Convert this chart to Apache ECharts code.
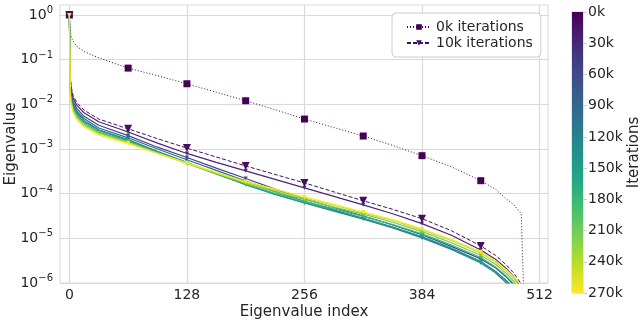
<!DOCTYPE html>
<html>
<head>
<meta charset="utf-8">
<script src="https://cdn.jsdelivr.net/npm/echarts@6/dist/echarts.min.js"></script>
<style>
html,body{margin:0;padding:0;background:#fff}
#main{width:644px;height:323px}
</style>
</head>
<body>
<div id="main"></div>
<script>
// eigenvalue index where values were read
var eigIndex = [0,1,2,4,8,16,32,64,96,128,160,192,224,256,288,320,352,384,416,448,464,476,484,492,496,511];
// log10(eigenvalue), one array per checkpoint
var log0k   = [0,-0.34,-0.50,-0.58,-0.70,-0.82,-0.96,-1.19,-1.36,-1.54,-1.73,-1.92,-2.12,-2.33,-2.52,-2.71,-2.92,-3.15,-3.40,-3.71,-3.90,-4.12,-4.25,-4.45,-7,-9];
var log10k  = [0,-1.38,-1.60,-1.80,-1.96,-2.13,-2.33,-2.55,-2.77,-2.98,-3.18,-3.38,-3.57,-3.76,-3.96,-4.16,-4.35,-4.56,-4.83,-5.17,-5.38,-5.60,-5.78,-6.02,-6.30,-8];
var log30k  = [0,-1.45,-1.66,-1.86,-2.02,-2.19,-2.39,-2.62,-2.87,-3.10,-3.30,-3.49,-3.68,-3.87,-4.06,-4.25,-4.45,-4.67,-4.93,-5.26,-5.47,-5.68,-5.86,-6.10,-6.40,-8];
var log60k  = [0,-1.52,-1.73,-1.93,-2.09,-2.27,-2.47,-2.70,-2.96,-3.19,-3.43,-3.66,-3.90,-4.12,-4.31,-4.50,-4.70,-4.92,-5.18,-5.46,-5.66,-5.87,-6.05,-6.30,-6.60,-8];
var log90k  = [0,-1.58,-1.79,-1.99,-2.15,-2.32,-2.53,-2.75,-3.00,-3.24,-3.48,-3.72,-3.95,-4.17,-4.36,-4.55,-4.75,-4.97,-5.23,-5.52,-5.74,-5.95,-6.12,-6.40,-6.70,-8];
var log120k = [0,-1.63,-1.84,-2.03,-2.19,-2.36,-2.57,-2.79,-3.05,-3.30,-3.55,-3.80,-4.02,-4.21,-4.39,-4.57,-4.77,-4.99,-5.25,-5.55,-5.77,-6.00,-6.18,-6.45,-6.80,-8];
var log150k = [0,-1.67,-1.87,-2.06,-2.22,-2.39,-2.59,-2.81,-3.07,-3.31,-3.56,-3.80,-4.01,-4.20,-4.38,-4.55,-4.75,-4.96,-5.22,-5.52,-5.74,-5.96,-6.14,-6.40,-6.70,-8];
var log180k = [0,-1.71,-1.91,-2.09,-2.25,-2.42,-2.62,-2.83,-3.08,-3.32,-3.56,-3.79,-3.99,-4.17,-4.34,-4.51,-4.69,-4.90,-5.15,-5.43,-5.64,-5.85,-6.02,-6.30,-6.60,-8];
var log210k = [0,-1.75,-1.94,-2.12,-2.28,-2.45,-2.64,-2.85,-3.09,-3.32,-3.55,-3.77,-3.96,-4.13,-4.30,-4.46,-4.64,-4.85,-5.10,-5.38,-5.58,-5.79,-5.96,-6.22,-6.50,-8];
var log240k = [0,-1.78,-1.97,-2.15,-2.31,-2.48,-2.66,-2.86,-3.10,-3.32,-3.54,-3.75,-3.93,-4.10,-4.26,-4.43,-4.60,-4.81,-5.05,-5.33,-5.53,-5.74,-5.90,-6.12,-6.40,-8];
var log270k = [0,-1.82,-2.00,-2.18,-2.34,-2.51,-2.69,-2.88,-3.10,-3.31,-3.52,-3.73,-3.90,-4.07,-4.24,-4.41,-4.58,-4.79,-5.02,-5.30,-5.50,-5.71,-5.86,-6.05,-6.35,-8];

var iterations = [0,10,30,60,90,120,150,180,210,240,270];
var curves = [log0k,log10k,log30k,log60k,log90k,log120k,log150k,log180k,log210k,log240k,log270k];
var xTicks = [0,128,256,384,512];
var yTicks = [1e-6,1e-5,1e-4,1e-3,1e-2,1e-1,1];
var cbarTicks = [0,30,60,90,120,150,180,210,240,270];

var textColor = '#262626';
var gridColor = '#d9d9d9';

// viridis colour map
var viridisStops = ['#440154','#482475','#414487','#355f8d','#2a788e','#21918c','#22a884','#44bf70','#7ad151','#bddf26','#fde725'];
function hexToRgb(h){
    return [parseInt(h.substr(1,2),16),parseInt(h.substr(3,2),16),parseInt(h.substr(5,2),16)];
}
function viridis(t){
    var p = t * (viridisStops.length - 1);
    var i = Math.min(Math.floor(p), viridisStops.length - 2);
    var f = p - i;
    var a = hexToRgb(viridisStops[i]), b = hexToRgb(viridisStops[i+1]);
    var c = [];
    for(var k = 0; k < 3; k ++){
        c.push(Math.round(a[k] + (b[k] - a[k]) * f));
    }
    return 'rgb(' + c.join(',') + ')';
}

function supLabel(v){
    var e = Math.round(Math.log10(v));
    return '10{sup|' + (e < 0 ? '\u2212' + (-e) : e) + '}';
}

var series = [];
for(var s = 0; s < curves.length; s ++){
    var it = iterations[s];
    var col = viridis(it / 270);
    var sym, symSize, symRot = 0, lineType = 'solid', lw = 1.2;
    if(it === 0){
        sym = 'rect'; symSize = 7; lineType = [1,2]; lw = 1;
    }else if(it === 10){
        sym = 'triangle'; symSize = 8; symRot = 180; lineType = [4,2]; lw = 1;
    }else{
        sym = 'triangle'; symSize = 4; symRot = 180;
    }
    var data = [];
    for(var i = 0; i < eigIndex.length; i ++){
        var item = {value: [eigIndex[i], Math.pow(10, curves[s][i])]};
        if(eigIndex[i] % 64 !== 0 || eigIndex[i] > 448){
            item.symbol = 'none';
        }
        data.push(item);
    }
    series.push({
        name: it + 'k iterations',
        type: 'line',
        xAxisIndex: 0,
        yAxisIndex: 0,
        data: data,
        symbol: sym,
        symbolSize: symSize,
        symbolRotate: symRot,
        showSymbol: true,
        clip: true,
        animation: false,
        color: col,
        itemStyle: {color: col},
        lineStyle: {color: col, width: lw, type: lineType},
        z: 2 + s
    });
}

// colour bar drawn as a single gradient bar
var gradStops = [];
for(var g = 0; g < viridisStops.length; g ++){
    gradStops.push({offset: g / (viridisStops.length - 1), color: viridisStops[g]});
}
series.push({
    type: 'bar',
    xAxisIndex: 1,
    yAxisIndex: 1,
    data: [270],
    barWidth: '100%',
    silent: true,
    animation: false,
    itemStyle: {color: new echarts.graphic.LinearGradient(0, 0, 0, 1, gradStops)}
});

var myChart = echarts.init(document.getElementById('main'), null, {renderer: 'canvas'});
var option = {
    backgroundColor: '#fff',
    textStyle: {fontFamily: 'DejaVu Sans', color: textColor},
    grid: [
        {left: 60, right: 96, top: 5, bottom: 40, show: true, borderColor: gridColor, borderWidth: 1, outerBoundsMode: 'none', containLabel: false},
        {left: 572, width: 11, top: 12, height: 281, show: true, borderColor: '#cccccc', borderWidth: 1, outerBoundsMode: 'none', containLabel: false}
    ],
    legend: {
        data: ['0k iterations', '10k iterations'],
        orient: 'vertical',
        left: 392,
        top: 13,
        padding: [6, 8, 6, 14],
        itemGap: 0,
        itemWidth: 24,
        itemHeight: 7,
        backgroundColor: '#ffffff',
        borderColor: '#cccccc',
        borderWidth: 1,
        borderRadius: 4,
        textStyle: {fontFamily: 'DejaVu Sans', fontSize: 14, color: textColor, lineHeight: 16}
    },
    xAxis: [
        {
            type: 'value',
            gridIndex: 0,
            min: -10.2,
            max: 521.2,
            name: 'Eigenvalue index',
            nameLocation: 'middle',
            nameGap: 22,
            nameMoveOverlap: false,
            nameTextStyle: {fontFamily: 'DejaVu Sans', fontSize: 15, color: textColor},
            axisLine: {show: false},
            axisTick: {show: false, customValues: xTicks},
            axisLabel: {customValues: xTicks, fontSize: 14, color: textColor, margin: 5, fontFamily: 'DejaVu Sans'},
            splitLine: {show: true, lineStyle: {color: gridColor, width: 1.2}}
        },
        {
            type: 'category',
            gridIndex: 1,
            data: ['c'],
            show: false,
            boundaryGap: true
        }
    ],
    yAxis: [
        {
            type: 'log',
            gridIndex: 0,
            logBase: 10,
            min: 1e-6,
            max: 1.67,
            interval: 1,
            name: 'Eigenvalue',
            nameLocation: 'middle',
            nameGap: 41,
            nameRotate: 90,
            nameMoveOverlap: false,
            nameTextStyle: {fontFamily: 'DejaVu Sans', fontSize: 15, color: textColor},
            axisLine: {show: false},
            axisTick: {show: false, customValues: yTicks},
            axisLabel: {
                customValues: yTicks,
                formatter: supLabel,
                fontSize: 14,
                color: textColor,
                margin: 7,
                fontFamily: 'DejaVu Sans',
                rich: {sup: {fontSize: 10, color: textColor, fontFamily: 'DejaVu Sans', padding: [0, 0, 9, 0]}}
            },
            splitLine: {show: true, lineStyle: {color: gridColor, width: 1.2}}
        },
        {
            type: 'value',
            gridIndex: 1,
            min: 0,
            max: 270,
            interval: 30,
            inverse: true,
            position: 'right',
            name: 'Iterations',
            nameLocation: 'middle',
            nameGap: 44,
            nameRotate: 90,
            nameMoveOverlap: false,
            nameTextStyle: {fontFamily: 'DejaVu Sans', fontSize: 15, color: textColor},
            axisLine: {show: false},
            axisTick: {show: true, length: 4, lineStyle: {color: '#cccccc'}},
            axisLabel: {fontSize: 14, color: textColor, margin: 5, fontFamily: 'DejaVu Sans', formatter: '{value}k'},
            splitLine: {show: false}
        }
    ],
    series: series
};
myChart.setOption(option);
</script>
</body>
</html>
